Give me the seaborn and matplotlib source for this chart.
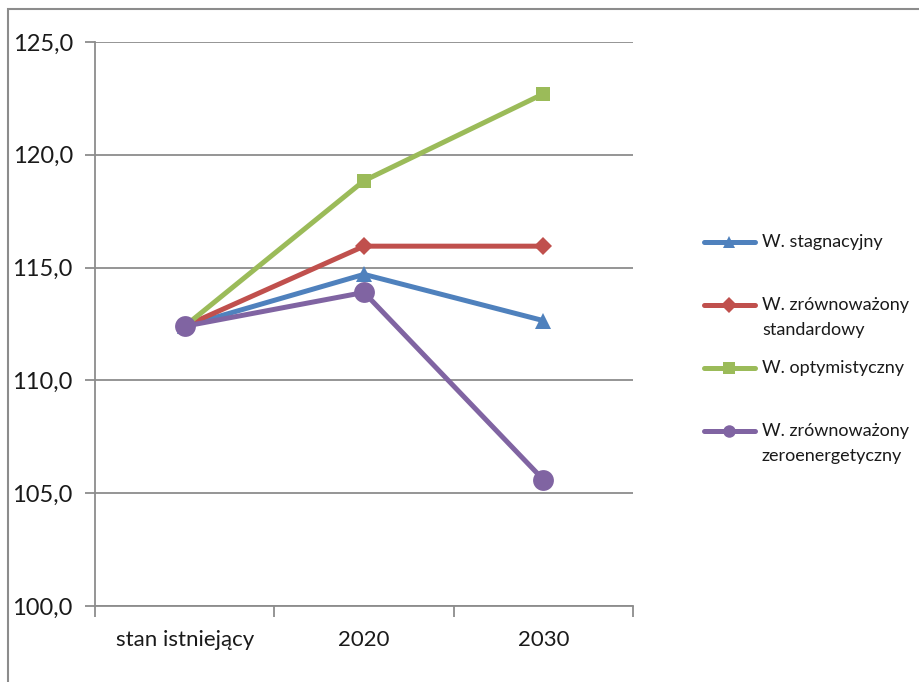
import matplotlib
matplotlib.use("Agg")
import matplotlib.pyplot as plt
import seaborn as sns
import pandas as pd
from matplotlib.lines import Line2D
from matplotlib.patches import Rectangle

# Scenario values per period
categories = ["stan istniejący", "2020", "2030"]
series_names = [
    "W. stagnacyjny",
    "W. zrównoważony\nstandardowy",
    "W. optymistyczny",
    "W. zrównoważony\nzeroenergetyczny",
]
stagnacyjny = [112.4, 114.7, 112.65]
standardowy = [112.4, 115.95, 115.95]
optymistyczny = [112.4, 118.85, 122.7]
zeroenergetyczny = [112.4, 113.9, 105.6]
y_ticks = [100, 105, 110, 115, 120, 125]
y_tick_labels = ["100,0", "105,0", "110,0", "115,0", "120,0", "125,0"]

colors = ["#4F81BD", "#C0504D", "#9BBB59", "#8064A2"]
markers = ["^", "D", "s", "o"]
marker_sizes = [11, 9, 10, 15]
legend_marker_sizes = [9, 8, 9, 9]

sns.set_theme(style="white")
plt.rcParams["font.family"] = ["Lato", "DejaVu Sans"]

W, H = 920, 682
fig = plt.figure(figsize=(W / 100, H / 100), dpi=100)
ax = fig.add_axes([95 / W, 1 - 606 / H, (633 - 95) / W, (606 - 42) / H])

values = [stagnacyjny, standardowy, optymistyczny, zeroenergetyczny]
df = pd.DataFrame({
    "okres": categories * len(values),
    "wartosc": sum(values, []),
    "scenariusz": [n for n in series_names for _ in categories],
})

for name, col, mk, ms in zip(series_names, colors, markers, marker_sizes):
    sub = df[df["scenariusz"] == name]
    sns.lineplot(data=sub, x="okres", y="wartosc", ax=ax, color=col,
                 marker=mk, markersize=ms, markeredgewidth=0,
                 linewidth=3.6, sort=False, legend=False, zorder=3)

ax.set_xlim(-0.5, len(categories) - 0.5)
ax.set_ylim(100, 125)
ax.set_xlabel("")
ax.set_ylabel("")

grid_col = "#8C8C8C"
ax.set_yticks(y_ticks)
ax.set_yticklabels(y_tick_labels)
ax.yaxis.grid(True, color=grid_col, linewidth=1.3, zorder=0)
ax.xaxis.grid(False)

# category labels centred, tick marks at category boundaries
ax.set_xticks(range(len(categories)))
ax.set_xticklabels(categories)
ax.set_xticks([i - 0.5 for i in range(len(categories) + 1)], minor=True)
ax.tick_params(axis="x", which="major", length=0, pad=17, labelsize=16,
               labelcolor="#1a1a1a")
ax.tick_params(axis="x", which="minor", length=8, width=1.3, color=grid_col,
               direction="out", bottom=True)
ax.tick_params(axis="y", which="major", length=7, width=1.3, color=grid_col,
               direction="out", left=True, pad=9, labelsize=17,
               labelcolor="#1a1a1a")

for side in ["top", "right"]:
    ax.spines[side].set_visible(False)
for side in ["left", "bottom"]:
    ax.spines[side].set_color(grid_col)
    ax.spines[side].set_linewidth(1.3)

# legend to the right of the plot
leg_rows = [242, 305, 368, 431]
for name, col, mk, ms, yy in zip(series_names, colors, markers,
                                 legend_marker_sizes, leg_rows):
    yf = 1 - yy / H
    fig.add_artist(Line2D([704 / W, 755 / W], [yf, yf], color=col,
                          linewidth=3.6, transform=fig.transFigure))
    fig.add_artist(Line2D([729.5 / W], [yf], color=col, marker=mk,
                          markersize=ms, markeredgewidth=0,
                          transform=fig.transFigure))
    for i, line in enumerate(name.split("\n")):
        fig.text(762 / W, 1 - (yy + i * 25) / H, line, ha="left",
                 va="center", fontsize=13, color="#1a1a1a")

# chart-area frame
fig.add_artist(Rectangle((8 / W, -0.2), 1.2, 1.2 - 9 / H,
                         transform=fig.transFigure, fill=False,
                         edgecolor="#8C8C8C", linewidth=1.5))

fig.savefig("out.png", dpi=100)
